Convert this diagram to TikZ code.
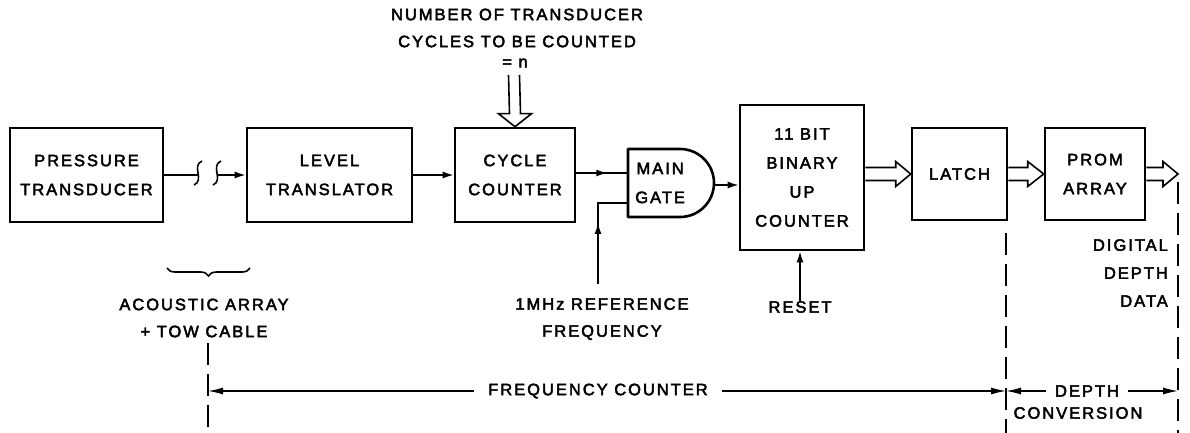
\documentclass[tikz,border=0pt]{standalone}
\usepackage{fontspec}
\setmainfont{Liberation Sans}[LetterSpace=12,FakeBold=2.8]
\usetikzlibrary{arrows.meta,calc,decorations.pathreplacing,decorations.markings}
\tikzset{
  blk/.style={draw,line width=2.6pt,rectangle,inner sep=0pt,align=center,
              font=\fontsize{16.5}{29}\selectfont},
  lbl/.style={inner sep=0pt,align=center,font=\fontsize{16.5}{27}\selectfont},
  con/.style={line width=1.6pt},
  arr/.style={con,-{Latex[length=11pt,width=7pt]}},
  midarr/.style={con,postaction={decorate},decoration={markings,
      mark=at position #1 with {\arrow{Latex[length=11pt,width=7pt]}}}},
  hol/.style={line width=1.6pt,line join=miter},
  dsh/.style={line width=1.4pt,dash pattern=on 22pt off 9pt},
  dim/.style={line width=1.4pt,-{Latex[length=15pt,width=7pt]}},
}
\begin{document}
\begin{tikzpicture}[x=1pt,y=-1pt]
\useasboundingbox (0,0) rectangle (1190,433);
% blocks
\node[blk,minimum width=153pt,minimum height=94pt] (pt) at (86.5,175) {PRESSURE\\TRANSDUCER};
\node[blk,minimum width=165pt,minimum height=94pt] (lt) at (329.5,175) {LEVEL\\TRANSLATOR};
\node[blk,minimum width=120pt,minimum height=94pt] (cc) at (515,175) {CYCLE\\COUNTER};
\node[blk,minimum width=124pt,minimum height=145pt] (bc) at (802,177.5) {11 BIT\\BINARY\\UP\\COUNTER};
\node[blk,minimum width=95pt,minimum height=92pt] (latch) at (959.5,174) {LATCH};
\node[blk,minimum width=100pt,minimum height=92pt] (prom) at (1095,174) {PROM\\ARRAY};
% main gate
\node[blk,draw=none,anchor=west] (gate) at (634,183) {MAIN\\GATE};
\draw[line width=2.6pt,line join=round] (628,149) -- (680,149) arc[start angle=90,end angle=-90,radius=34pt] -- (628,217) -- cycle;
\coordinate (gin1) at (628,173);
\coordinate (gin2) at (628,203);
\coordinate (gout) at (714,185);
% labels
\node[lbl] (top) at (517,28) {NUMBER OF TRANSDUCER\\CYCLES TO BE COUNTED};
\node[lbl] (n) at (515,63) {= n};
\node[lbl] (aa) at (204,318) {ACOUSTIC ARRAY\\+ TOW CABLE};
\node[lbl] (mhz) at (602,319) {1MHz REFERENCE\\FREQUENCY};
\node[lbl] (reset) at (800,307) {RESET};
\node[lbl,align=right,anchor=east,font=\fontsize{16.5}{28}\selectfont] (ddd) at (1168,273) {DIGITAL\\DEPTH\\DATA};
% transducer -> level translator with cable break
\coordinate (brk1) at (198,175);
\coordinate (brk2) at (217,175);
\draw[con] (pt) -- (brk1);
\draw[con] ($(brk1)+(-4,10)$) .. controls ($(brk1)+(7,5)$) and ($(brk1)+(-7,-9)$) .. ($(brk1)+(4,-14)$);
\draw[con] ($(brk2)+(-4,10)$) .. controls ($(brk2)+(7,5)$) and ($(brk2)+(-7,-9)$) .. ($(brk2)+(4,-14)$);
\draw[arr] (brk2) -- (lt);
\draw[arr] (lt) -- (cc);
\draw[midarr=0.6] (cc.east |- gin1) -- (gin1);
\coordinate (mf) at (598,284);
\draw[midarr=0.55] (mf) -- (mf |- gin2) -- (gin2);
\draw[arr] (gout) -- (bc.west |- gout);
\draw[arr] (reset.north) -- (reset.north |- bc.south);
% hollow arrows
\coordinate (tA) at (514,75);
\draw[hol] ($(tA)+(-5.5,0)$) -- ($(cc.north)+(-5.5,-13)$) -- ($(cc.north)+(-16.5,-13)$) -- (cc.north)
  -- ($(cc.north)+(16.5,-13)$) -- ($(cc.north)+(5.5,-13)$) -- ($(tA)+(5.5,0)$);
\draw[hol] ($(bc.east |- latch)+(0,-6.5)$) -- ($(latch.west)+(-15,-6.5)$) -- ($(latch.west)+(-15,-12.5)$) -- (latch.west)
  -- ($(latch.west)+(-15,12.5)$) -- ($(latch.west)+(-15,6.5)$) -- ($(bc.east |- latch)+(0,6.5)$);
\draw[hol] ($(latch.east)+(0,-6.5)$) -- ($(prom.west)+(-16,-6.5)$) -- ($(prom.west)+(-16,-12.5)$) -- (prom.west)
  -- ($(prom.west)+(-16,12.5)$) -- ($(prom.west)+(-16,6.5)$) -- ($(latch.east)+(0,6.5)$);
\coordinate (out) at (1178,174);
\draw[hol] ($(prom.east)+(0,-6.5)$) -- ($(out)+(-15,-6.5)$) -- ($(out)+(-15,-12.5)$) -- (out)
  -- ($(out)+(-15,12.5)$) -- ($(out)+(-15,6.5)$) -- ($(prom.east)+(0,6.5)$);
% brace
\draw[line width=1.6pt,decorate,decoration={brace,mirror,amplitude=8pt}] (167,268) -- (250,268);
% dashed boundaries
\coordinate (d1t) at (208,343); \coordinate (d1b) at (208,433);
\coordinate (d2t) at (1006,233); \coordinate (d2b) at (1006,433);
\coordinate (d3t) at (1178,182); \coordinate (d3b) at (1178,433);
\draw[dsh] (d1t) -- (d1b);
\draw[dsh] (d2t) -- (d2b);
\draw[dsh] (d3t) -- (d3b);
% dimension lines
\node[lbl,inner xsep=14pt] (fc) at (598,391) {FREQUENCY COUNTER};
\node[lbl,inner xsep=9pt] (dc) at (1087,391) {DEPTH};
\node[lbl] (conv) at (1078,413) {CONVERSION};
\draw[dim] (fc.west) -- (d1t |- fc);
\draw[dim] (fc.east) -- (d2t |- fc);
\draw[dim] (dc.west) -- (d2t |- dc);
\draw[dim] (dc.east) -- (d3t |- dc);
\end{tikzpicture}
\end{document}
